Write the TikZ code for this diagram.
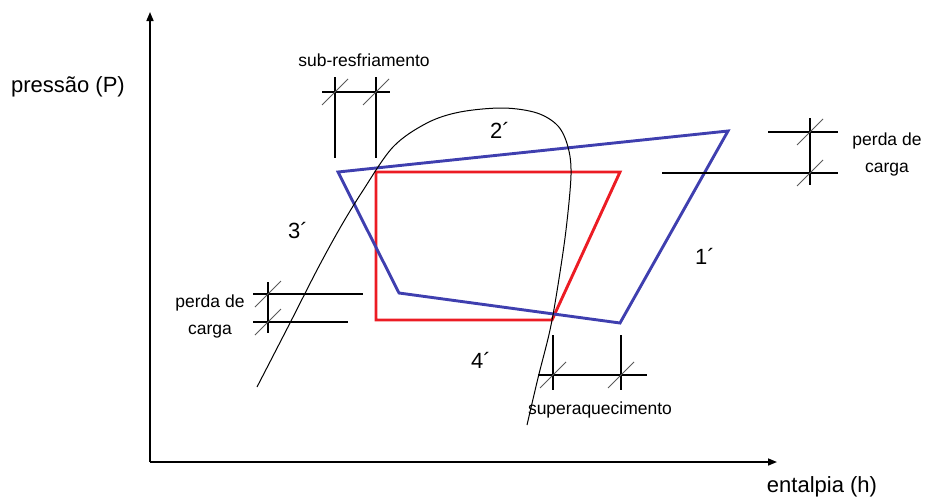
\documentclass[tikz,border=0pt]{standalone}
\usepackage{fontspec}
\setmainfont{Liberation Sans}
\usepackage{tikz}
\usetikzlibrary{arrows.meta,calc}
\definecolor{cycblue}{HTML}{3F3FAF}
\definecolor{cycred}{HTML}{EC1C24}
\tikzset{
  axis/.style  = {line width=1.6pt, -{Triangle[length=9pt,width=7pt]}},
  dome/.style  = {line width=1pt, draw=black},
  realc/.style = {line width=2.9pt, draw=cycblue, line join=miter},
  idealc/.style= {line width=2.9pt, draw=cycred, line join=miter},
  dim/.style   = {line width=1.1pt, draw=black},
  slash/.style = {line width=0.9pt, draw=black!65},
  lbl/.style   = {font=\fontsize{17.5}{27}\selectfont, align=center, inner sep=0pt},
  big/.style   = {font=\fontsize{22}{26}\selectfont, inner sep=0pt},
}
\newcommand{\slashmark}[1]{\draw[slash] (#1) ++(-13,13) -- ++(26,-26);}

\begin{document}
\begin{tikzpicture}[x=1pt, y=-1pt]
\useasboundingbox (0,0) rectangle (926,498);

% ---------------- axes ------------------------------------------------
\coordinate (O) at (150,462);
\coordinate (ytop) at (150,12);
\coordinate (xend) at (777,462);
\draw[axis] (O) -- (ytop);
\draw[axis] (O) -- (xend);
\node[big] (plabel) at (68,87) {pressão (P)};
\node[big] (hlabel) at (822,487) {entalpia (h)};

% ---------------- ideal cycle (red) -----------------------------------
\coordinate (r1) at (620,172);
\coordinate (r2) at (552,320);
\coordinate (r3) at (376,320);
\coordinate (r4) at (376,172);
\draw[idealc] (r1) -- (r2) -- (r3) -- (r4) -- cycle;

% ---------------- real cycle (blue) -----------------------------------
\coordinate (b1) at (728,131);
\coordinate (b2) at (620,323);
\coordinate (b3) at (399,293);
\coordinate (b4) at (338,172);
\draw[realc] (b1) -- (b2) -- (b3) -- (b4) -- cycle;

% ---------------- saturation dome -------------------------------------
\draw[dome] plot[smooth, tension=0.55] coordinates {
  (257,387) (290,323) (317,270) (340,228) (362,192) (393,147) (427,123)
  (460,112) (503,108) (537,113) (558,126) (568,147) (571,175) (566,230)
  (558,285) (550,330) (538,378) (527,425)};

% ---------------- state labels ----------------------------------------
\node[big] (s1) at (705,256) {1´};
\node[big] (s2) at (500,130) {2´};
\node[big] (s3) at (298,231) {3´};
\node[big] (s4) at (481,360) {4´};

% ---------------- sub-resfriamento ------------------------------------
\coordinate (sc1) at (335,92);
\coordinate (sc2) at (376,92);
\draw[dim] (335,77) -- (335,158);
\draw[dim] (376,77) -- (376,158);
\draw[dim] (322,92) -- (390,92);
\slashmark{sc1}
\slashmark{sc2}
\node[lbl] (sclabel) at (364,60) {sub-resfriamento};

% ---------------- perda de carga, condenser side ----------------------
\coordinate (pc1) at (810,132);
\coordinate (pc2) at (810,173);
\draw[dim] (768,132) -- (838,132);
\draw[dim] (662,173) -- (838,173);
\draw[dim] (810,118) -- (810,185);
\slashmark{pc1}
\slashmark{pc2}
\node[lbl] (pclabel) at (887,154) {perda de\\carga};

% ---------------- perda de carga, evaporator side ---------------------
\coordinate (pe1) at (268,294);
\coordinate (pe2) at (268,322);
\draw[dim] (253,294) -- (363,294);
\draw[dim] (253,322) -- (348,322);
\draw[dim] (268,282) -- (268,333);
\slashmark{pe1}
\slashmark{pe2}
\node[lbl] (pelabel) at (210,316) {perda de\\carga};

% ---------------- superaquecimento ------------------------------------
\coordinate (sh1) at (553,375);
\coordinate (sh2) at (621,375);
\draw[dim] (538,375) -- (647,375);
\draw[dim] (553,335) -- (553,390);
\draw[dim] (621,335) -- (621,390);
\slashmark{sh1}
\slashmark{sh2}
\node[lbl] (shlabel) at (600,410) {superaquecimento};

\end{tikzpicture}
\end{document}
